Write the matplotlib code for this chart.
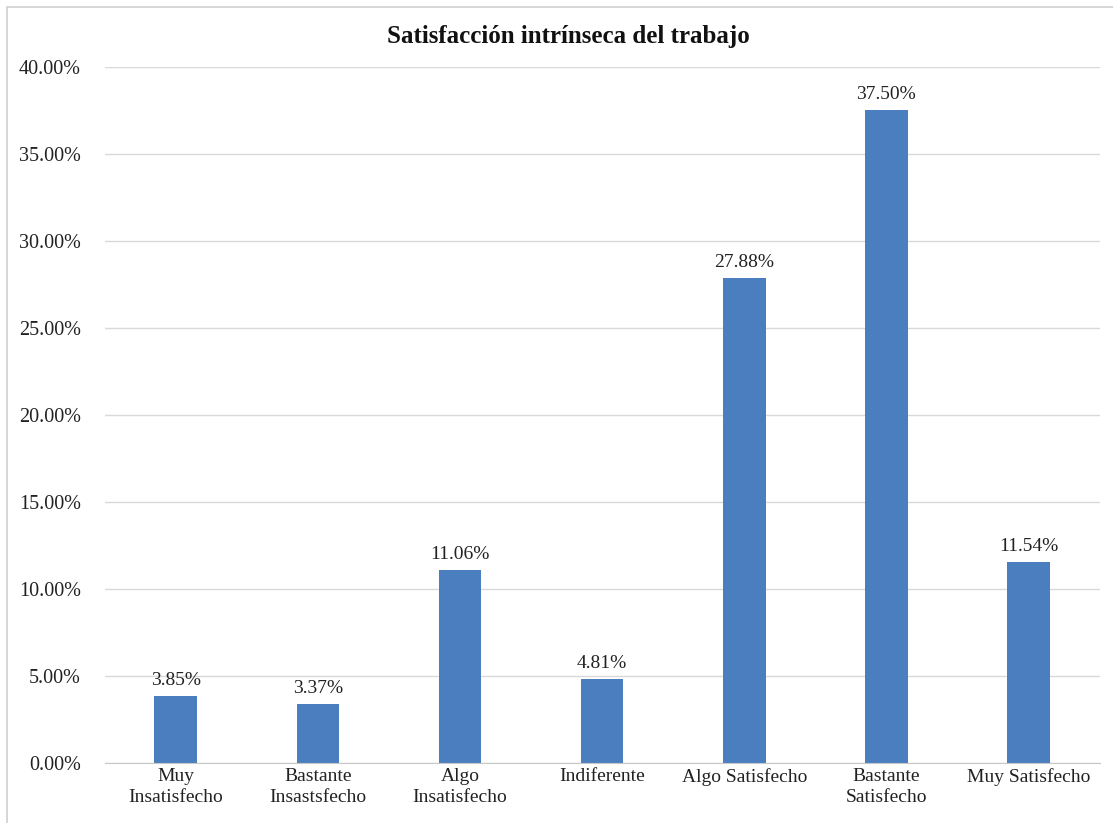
import matplotlib
matplotlib.use("Agg")
import matplotlib.pyplot as plt
from matplotlib.patches import Rectangle
from matplotlib.ticker import FuncFormatter, MultipleLocator

categories = ["Muy\nInsatisfecho", "Bastante\nInsastsfecho", "Algo\nInsatisfecho",
              "Indiferente", "Algo Satisfecho", "Bastante\nSatisfecho", "Muy Satisfecho"]
values = [3.85, 3.37, 11.06, 4.81, 27.88, 37.50, 11.54]
title = "Satisfacción intrínseca del trabajo"

plt.rcParams["font.family"] = ["Liberation Serif", "DejaVu Serif"]

fig = plt.figure(figsize=(11.13, 8.23), dpi=100)
ax = fig.add_axes([0.094, 0.073, 0.894, 0.846])

x = range(len(categories))
bars = ax.bar(x, values, width=0.3, color="#4A7EBF", zorder=3)
for xi, v in zip(x, values):
    ax.text(xi, v + 0.4, f"{v:.2f}%", ha="center", va="bottom", fontsize=14, color="#222222")

ax.set_xlim(-0.5, len(categories) - 0.5)
ax.set_ylim(0, 40)
ax.yaxis.set_major_locator(MultipleLocator(5))
ax.yaxis.set_major_formatter(FuncFormatter(lambda v, p: f"{v:.2f}%"))
ax.grid(axis="y", color="#d9d9d9", linewidth=1, zorder=0)
ax.set_xticks(list(x))
ax.set_xticklabels(categories, fontsize=14, color="#222222", linespacing=1.25)
ax.tick_params(axis="y", labelsize=14.5, colors="#222222", length=0, pad=17)
ax.tick_params(axis="x", length=0, pad=4)
for side in ["top", "right", "left"]:
    ax.spines[side].set_visible(False)
ax.spines["bottom"].set_color("#c8c8c8")
ax.spines["bottom"].set_zorder(4)

fig.text(0.511, 0.956, title, ha="center", va="center", fontsize=18, fontweight="bold", color="#111111")

fig.patches.append(Rectangle((0.006, -0.01), 1.0, 1.001, transform=fig.transFigure,
                             fill=False, edgecolor="#cfcfcf", linewidth=1.2))

fig.savefig("out.png", dpi=100)
